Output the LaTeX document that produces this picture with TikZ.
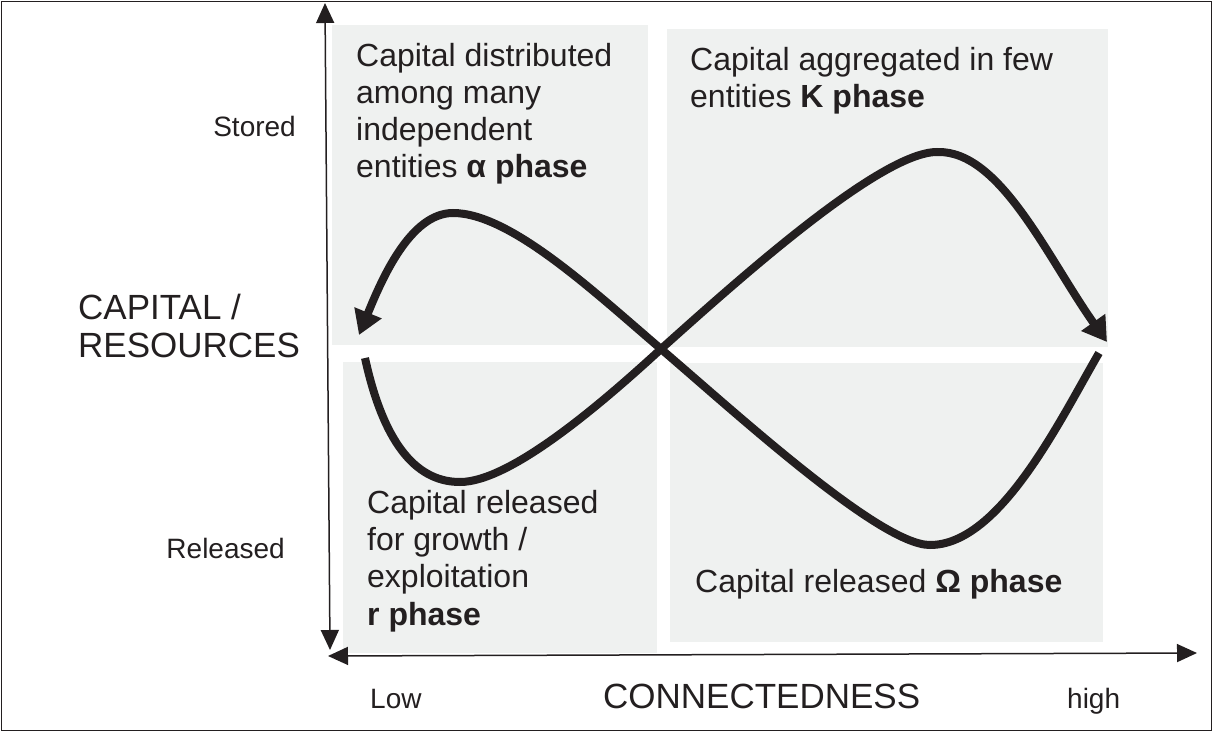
\documentclass[tikz,border=0pt]{standalone}
\usepackage{fontspec}
\setmainfont{Liberation Sans}
\usetikzlibrary{arrows.meta}
\definecolor{ink}{RGB}{35,31,32}
\definecolor{panel}{RGB}{239,241,240}
\begin{document}
\begin{tikzpicture}[x=1pt,y=-1pt,
  panelbox/.style={fill=panel,draw=none},
  boxtext/.style={anchor=base west,inner sep=0pt,text=ink,font=\fontsize{32}{37}\selectfont},
  ticklabel/.style={inner sep=0pt,text=ink,font=\fontsize{28}{34}\selectfont},
  axistitle/.style={anchor=base west,inner sep=0pt,text=ink,font=\fontsize{35}{38}\selectfont},
  axisline/.style={draw=ink,line width=1.5pt,{Triangle[length=20pt,width=18pt]}-{Triangle[length=20pt,width=18pt]}},
  loopline/.style={draw=ink,line width=8pt,-{Triangle[length=24pt,width=28pt]}}]
\useasboundingbox (0,0) rectangle (1213,733);
\draw[ink,line width=1.5pt] (1.5,1.5) rectangle (1211.5,730.5);
% panels
\path[panelbox] (332,25) rectangle (648,345);
\path[panelbox] (667,29) rectangle (1108,347);
\path[panelbox] (343,362) rectangle (657,653);
\path[panelbox] (670,363) rectangle (1103,642);
% axes
\coordinate (ytop) at (325,3);
\coordinate (ybot) at (330,650);
\coordinate (xleft) at (328,656);
\coordinate (xright) at (1197,653);
\draw[axisline] (ytop) -- (ybot);
\draw[axisline] (xleft) -- (xright);
% curve
\coordinate (rstart) at (365,358);
\coordinate (cross) at (661,349);
\coordinate (ktip) at (1107,342);
\coordinate (omstart) at (1099,353);
\coordinate (atip) at (359,335);
\draw[loopline] (rstart) .. controls (385,450) and (420,482) .. (460,482)
  .. controls (510,482) and (600,405) .. (cross)
  .. controls (735.5,282.3) and (880,152) .. (937,152)
  .. controls (1000,150) and (1047,257) .. (ktip);
\draw[loopline] (omstart) .. controls (1060,420) and (1000,545) .. (930,545)
  .. controls (880,545) and (737,414) .. (cross)
  .. controls (592.6,290.5) and (510,213) .. (453,213)
  .. controls (410,213) and (381.5,280) .. (atip);
% box texts
\node[boxtext] (a1) at (356,67) {Capital distributed};
\node[boxtext] (a2) at (356,104) {among many};
\node[boxtext] (a3) at (356,141) {independent};
\node[boxtext] (a4) at (356,178) {entities \textbf{α phase}};
\node[boxtext] (k1) at (690,71) {Capital aggregated in few};
\node[boxtext] (k2) at (690,108) {entities \textbf{K phase}};
\node[boxtext] (r1) at (367,513) {Capital released};
\node[boxtext] (r2) at (367,550) {for growth /};
\node[boxtext] (r3) at (367,587) {exploitation};
\node[boxtext] (r4) at (367,625) {\textbf{r phase}};
\node[boxtext] (o1) at (695,592) {Capital released \textbf{Ω phase}};
% axis labels
\node[ticklabel,anchor=base east] (stored) at (296,137) {Stored};
\node[ticklabel,anchor=base east] (released) at (285,558) {Released};
\node[axistitle] (cap1) at (78,319) {CAPITAL /};
\node[axistitle] (cap2) at (78,357) {RESOURCES};
\node[ticklabel,anchor=base west] (low) at (370,708) {Low};
\node[axistitle] (conn) at (603,708) {CONNECTEDNESS};
\node[ticklabel,anchor=base west] (high) at (1067,708) {high};
\end{tikzpicture}
\end{document}
